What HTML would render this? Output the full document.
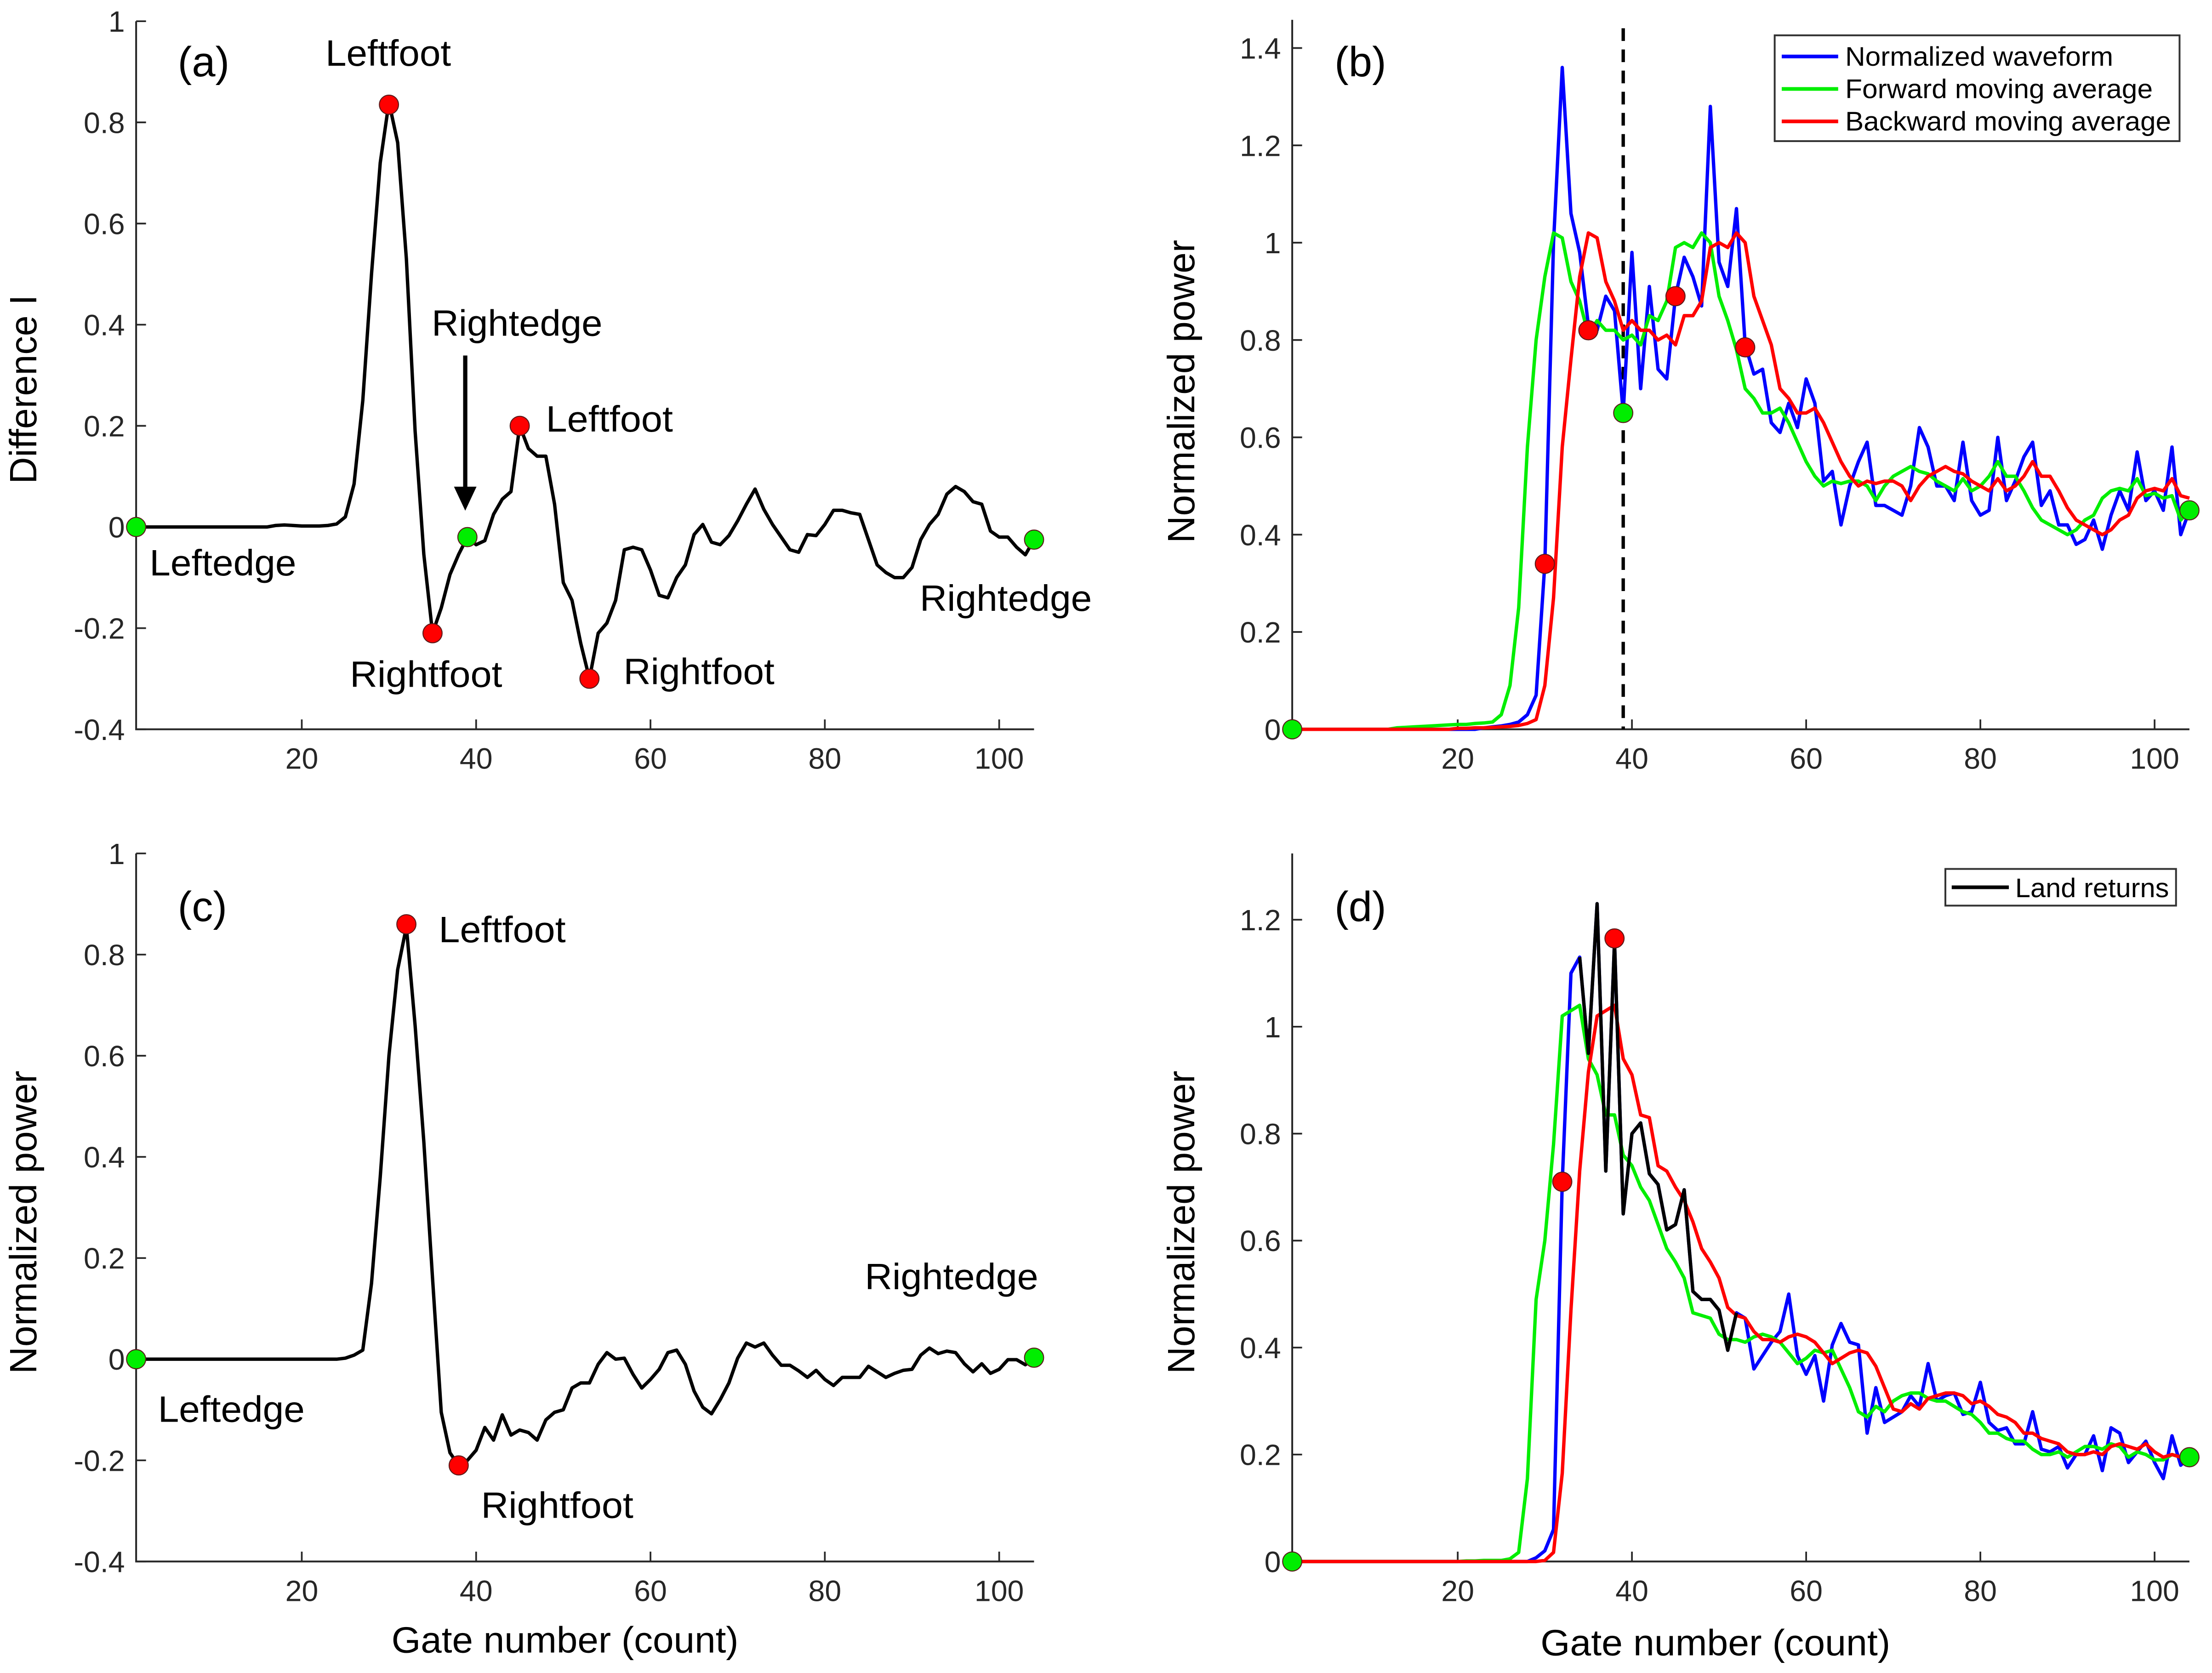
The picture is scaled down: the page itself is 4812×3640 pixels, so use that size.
<!DOCTYPE html>
<html><head><meta charset="utf-8"><title>Waveform retracking panels</title>
<style>
html,body{margin:0;padding:0;background:#fff;}
svg{display:block;}
text{font-family:"Liberation Sans",Arial,sans-serif;}
</style></head>
<body>
<svg id="fig" xmlns="http://www.w3.org/2000/svg" width="4812" height="3640" viewBox="0 0 1568 1186"></svg>
<script>
// ---------- data (gates 1..104) ----------
const gates = Array.from({length:104},(_,i)=>i+1);
const aTicksX = [20,40,60,80,100];
const aTicksY = [-0.4,-0.2,0,0.2,0.4,0.6,0.8,1];
const aTickLabelsY = ["-0.4","-0.2","0","0.2","0.4","0.6","0.8","1"];
const bTicksY = [0,0.2,0.4,0.6,0.8,1,1.2,1.4];
const bTickLabelsY = ["0","0.2","0.4","0.6","0.8","1","1.2","1.4"];
const dTicksY = [0,0.2,0.4,0.6,0.8,1,1.2];
const dTickLabelsY = ["0","0.2","0.4","0.6","0.8","1","1.2"];

const diffA = [0,0,0,0,0,0,0,0,0,0,0,0,0,0,0,0,0.003,0.004,0.003,0.002,0.002,0.002,0.003,0.006,0.02,0.085,0.25,0.5,0.72,0.84,
0.76,0.53,0.19,-0.054,-0.21,-0.16,-0.094,-0.054,-0.02,-0.035,-0.027,0.025,0.055,0.07,0.2,0.155,0.14,0.14,0.045,-0.11,
-0.145,-0.23,-0.3,-0.21,-0.19,-0.145,-0.045,-0.04,-0.045,-0.085,-0.135,-0.14,-0.1,-0.075,-0.015,0.005,-0.03,-0.035,-0.017,0.012,
0.045,0.075,0.035,0.005,-0.02,-0.045,-0.05,-0.015,-0.017,0.005,0.033,0.033,0.028,0.025,-0.025,-0.075,-0.09,-0.1,-0.1,-0.08,
-0.025,0.005,0.025,0.065,0.08,0.07,0.05,0.045,-0.008,-0.02,-0.02,-0.04,-0.055,-0.025];
const aRedX = [30,35,45,53];
const aRedY = [0.835,-0.21,0.2,-0.3];
const aGreenX = [1,39,104];
const aGreenY = [0,-0.02,-0.025];

const bBlue = [0,0,0,0,0,0,0,0,0,0,0,0,0,0,0,0,0,0,0,0,0,0,0.003,0.005,0.007,0.01,0.015,0.03,0.07,0.34,
1.0,1.36,1.06,0.98,0.83,0.82,0.89,0.86,0.65,0.98,0.70,0.91,0.74,0.72,0.89,0.97,0.93,0.87,1.28,0.96,
0.91,1.07,0.79,0.73,0.74,0.63,0.61,0.67,0.62,0.72,0.67,0.51,0.53,0.42,0.50,0.55,0.59,0.46,0.46,0.45,
0.44,0.50,0.62,0.58,0.50,0.50,0.47,0.59,0.47,0.44,0.45,0.60,0.47,0.51,0.56,0.59,0.46,0.49,0.42,0.42,
0.38,0.39,0.43,0.37,0.44,0.49,0.45,0.57,0.47,0.49,0.45,0.58,0.40,0.45];
const bGreen = [0,0,0,0,0,0,0,0,0,0,0,0,0.003,0.004,0.005,0.006,0.007,0.008,0.009,0.01,0.01,0.012,0.013,0.015,0.03,0.09,0.25,0.58,0.8,0.93,
1.02,1.01,0.92,0.88,0.81,0.84,0.82,0.82,0.80,0.81,0.79,0.85,0.84,0.88,0.99,1.0,0.99,1.02,1.0,0.89,
0.84,0.78,0.70,0.68,0.65,0.65,0.66,0.63,0.59,0.55,0.52,0.50,0.51,0.505,0.51,0.51,0.50,0.47,0.50,0.52,
0.53,0.54,0.53,0.525,0.51,0.50,0.49,0.515,0.49,0.50,0.52,0.55,0.52,0.52,0.49,0.455,0.43,0.42,0.41,0.40,
0.41,0.43,0.44,0.475,0.49,0.495,0.49,0.515,0.48,0.485,0.475,0.48,0.43,0.45];
const bRed = [0,0,0,0,0,0,0,0,0,0,0,0,0,0,0,0,0,0,0,0.002,0.002,0.003,0.003,0.004,0.005,0.006,0.008,0.012,0.02,0.09,
0.27,0.58,0.76,0.93,1.02,1.01,0.92,0.88,0.82,0.84,0.82,0.82,0.80,0.81,0.79,0.85,0.85,0.88,0.99,1.0,
0.99,1.02,1.0,0.89,0.84,0.79,0.70,0.68,0.65,0.65,0.66,0.63,0.59,0.55,0.52,0.50,0.51,0.505,0.51,0.51,
0.50,0.47,0.50,0.52,0.53,0.54,0.53,0.525,0.51,0.50,0.49,0.515,0.49,0.50,0.52,0.55,0.52,0.52,0.49,0.455,
0.43,0.42,0.41,0.40,0.41,0.43,0.44,0.475,0.49,0.495,0.49,0.515,0.48,0.475];
const bRedX = [30,35,45,53];
const bRedY = [0.34,0.82,0.89,0.785];
const bGreenX = [1,39,104];
const bGreenY = [0,0.65,0.45];
const bDashX = 39;

const cBlack = [0,0,0,0,0,0,0,0,0,0,0,0,0,0,0,0,0,0,0,0,0,0,0,0,0.002,0.008,0.018,0.15,0.36,0.6,
0.77,0.855,0.66,0.43,0.16,-0.105,-0.185,-0.21,-0.2,-0.18,-0.135,-0.16,-0.11,-0.15,-0.14,-0.145,-0.16,-0.12,-0.105,-0.1,
-0.057,-0.047,-0.047,-0.01,0.013,0.0,0.002,-0.03,-0.057,-0.04,-0.02,0.013,0.018,-0.01,-0.063,-0.095,-0.108,-0.08,-0.047,0.002,
0.032,0.024,0.032,0.008,-0.012,-0.012,-0.023,-0.036,-0.022,-0.04,-0.052,-0.036,-0.036,-0.036,-0.014,-0.025,-0.036,-0.028,-0.022,-0.02,
0.008,0.022,0.011,0.016,0.013,-0.009,-0.025,-0.009,-0.028,-0.02,-0.001,-0.001,-0.011,0.002];
const cRedX = [32,38];
const cRedY = [0.86,-0.21];
const cGreenX = [1,104];
const cGreenY = [0,0.003];

const dBlue = [0,0,0,0,0,0,0,0,0,0,0,0,0,0,0,0,0,0,0,0,0,0,0,0,0,0,0,0,0.007,0.02,
0.06,0.71,1.10,1.13,0.95,1.23,0.73,1.16,0.65,0.80,0.82,0.725,0.705,0.62,0.63,0.695,0.505,0.49,0.49,0.47,
0.395,0.465,0.455,0.36,0.385,0.41,0.43,0.50,0.385,0.35,0.385,0.30,0.405,0.445,0.41,0.405,0.24,0.325,0.26,0.27,
0.28,0.31,0.29,0.37,0.30,0.31,0.315,0.275,0.28,0.335,0.26,0.245,0.25,0.22,0.22,0.28,0.21,0.205,0.215,0.175,
0.20,0.20,0.235,0.17,0.25,0.24,0.185,0.205,0.225,0.185,0.155,0.235,0.18,0.195];
const dBlackX = [34,35,36,37,38,39,40,41,42,43,44,45,46,47,48,49,50,51,52];
const dBlackY = [1.13,0.95,1.23,0.73,1.16,0.65,0.80,0.82,0.725,0.705,0.62,0.63,0.695,0.505,0.49,0.49,0.47,0.395,0.465];
const dGreen = [0,0,0,0,0,0,0,0,0,0,0,0,0,0,0,0,0,0,0,0,0.001,0.001,0.002,0.002,0.002,0.005,0.017,0.155,0.49,0.6,
0.78,1.02,1.03,1.04,0.94,0.91,0.835,0.835,0.76,0.74,0.70,0.675,0.63,0.585,0.56,0.53,0.465,0.46,0.455,0.425,
0.415,0.415,0.41,0.42,0.425,0.42,0.41,0.39,0.37,0.38,0.395,0.39,0.395,0.36,0.325,0.28,0.27,0.29,0.28,0.30,
0.31,0.315,0.315,0.305,0.30,0.30,0.29,0.28,0.275,0.26,0.24,0.24,0.23,0.225,0.225,0.21,0.20,0.20,0.205,0.195,
0.205,0.215,0.215,0.21,0.22,0.215,0.195,0.205,0.20,0.19,0.19,0.20,0.195,0.195];
const dRed = [0,0,0,0,0,0,0,0,0,0,0,0,0,0,0,0,0,0,0,0,0,0,0,0,0,0,0,0,0,0.002,
0.017,0.165,0.47,0.73,0.915,1.02,1.03,1.04,0.94,0.91,0.835,0.83,0.74,0.73,0.70,0.675,0.635,0.585,0.56,0.53,
0.475,0.46,0.455,0.43,0.415,0.415,0.41,0.42,0.425,0.42,0.41,0.39,0.37,0.38,0.39,0.395,0.39,0.365,0.325,0.285,
0.28,0.295,0.285,0.305,0.31,0.315,0.315,0.31,0.295,0.30,0.29,0.275,0.27,0.26,0.24,0.24,0.23,0.225,0.22,0.205,
0.20,0.20,0.205,0.20,0.215,0.22,0.215,0.21,0.22,0.205,0.195,0.20,0.195,0.195];
const dRedX = [32,38];
const dRedY = [0.71,1.165];
const dGreenX = [1,104];
const dGreenY = [0,0.195];

// ---------- rendering ----------
const NS = "http://www.w3.org/2000/svg";
const svg = document.getElementById('fig');
function mk(tag, attrs, parent){
  const e = document.createElementNS(NS, tag);
  for (const k in attrs) e.setAttribute(k, attrs[k]);
  (parent||svg).appendChild(e);
  return e;
}
function txt(str, x, y, size, parent, extra){
  const e = mk('text', Object.assign({x:x, y:y, 'font-size':size, fill:'#000'}, extra||{}), parent);
  e.textContent = str;
  return e;
}
function makeAxes(name, xs, ys){
  const g = mk('g', {});
  
  
  return {g, xs, ys};
}
function linScale(d0, d1, r0, r1){ return v => r0 + (v - d0) * (r1 - r0) / (d1 - d0); }

function drawAxes(ax, opts){
  const {g, xs, ys} = ax;
  const xl = xs(1), xr = xs(104), yb = ys(opts.yMin), yt = opts.yTopPx;
  const axis = mk('path', {d:`M${xl},${yt} L${xl},${yb} L${xr},${yb}`, fill:'none', stroke:'#262626', 'stroke-width':1.3}, g);
  
  
  aTicksX.forEach(t=>{
    const x = xs(t);
    const tk = mk('line', {x1:x, y1:yb, x2:x, y2:yb-7, stroke:'#262626', 'stroke-width':1.2}, g);
    
    
    const lb = txt(String(t), x, yb+28, 21, g, {'text-anchor':'middle', fill:'#262626'});
    
    
  });
  opts.ticksY.forEach((t,i)=>{
    const y = ys(t);
    const tk = mk('line', {x1:xl, y1:y, x2:xl+7, y2:y, stroke:'#262626', 'stroke-width':1.2}, g);
    
    
    const lb = txt(opts.labelsY[i], xl-8, y+7.5, 21, g, {'text-anchor':'end', fill:'#262626'});
    
    
  });
}
function drawLine(ax, xvals, yvals, color, name, w){
  const d = xvals.map((x,i)=>(i?'L':'M')+ax.xs(x).toFixed(2)+','+ax.ys(yvals[i]).toFixed(2)).join(' ');
  const p = mk('path', {d, fill:'none', stroke:color, 'stroke-width':w||2.4, 'stroke-linejoin':'round'}, ax.g);
  
  
}
function drawMarkers(ax, xvals, yvals, color, name){
  xvals.forEach((x,i)=>{
    const c = mk('circle', {cx:ax.xs(x), cy:ax.ys(yvals[i]), r:6.8, fill:color, stroke:'#5a1a1a', 'stroke-width':0.7}, ax.g);
    
    
  });
}
function label(str, x, y, size, name, len, extra){
  const e = txt(str, x, y, size, svg, Object.assign(len?{textLength:len, lengthAdjust:'spacingAndGlyphs'}:{}, extra||{}));
  
  
  return e;
}

// Panel (a)
const axA = makeAxes('panel-a', linScale(1,104,96.5,733), linScale(-0.4,1,517,15));
drawAxes(axA, {yMin:-0.4, yTopPx:15, ticksY:aTicksY, labelsY:aTickLabelsY});
drawLine(axA, gates, diffA, '#000', 'difference-curve');
drawMarkers(axA, aRedX, aRedY, '#ff0000', 'foot-marker');
drawMarkers(axA, aGreenX, aGreenY, '#00ee00', 'edge-marker');
const arrow = mk('g', {});  
mk('line', {x1:329.8, y1:252, x2:329.8, y2:347, stroke:'#000', 'stroke-width':3}, arrow);
mk('path', {d:'M321.8,345 L337.8,345 L329.8,362 Z', fill:'#000'}, arrow);

// Panel (b)
const axB = makeAxes('panel-b', linScale(1,104,916,1552), linScale(0,1.4,517,34));
drawAxes(axB, {yMin:0, yTopPx:14, ticksY:bTicksY, labelsY:bTickLabelsY});
const dash = mk('line', {x1:axB.xs(bDashX), y1:20, x2:axB.xs(bDashX), y2:517, stroke:'#000', 'stroke-width':2.4, 'stroke-dasharray':'9,6'}, axB.g);


drawLine(axB, gates, bBlue, '#0000ff', 'normalized-waveform-line');
drawLine(axB, gates, bGreen, '#00ee00', 'forward-average-line');
drawLine(axB, gates, bRed, '#ff0000', 'backward-average-line');
drawMarkers(axB, bRedX, bRedY, '#ff0000', 'foot-marker');
drawMarkers(axB, bGreenX, bGreenY, '#00ee00', 'edge-marker');

// Panel (c)
const axC = makeAxes('panel-c', linScale(1,104,96.5,733), linScale(-0.4,1,1107,605));
drawAxes(axC, {yMin:-0.4, yTopPx:605, ticksY:aTicksY, labelsY:aTickLabelsY});
drawLine(axC, gates, cBlack, '#000', 'difference-curve');
drawMarkers(axC, cRedX, cRedY, '#ff0000', 'foot-marker');
drawMarkers(axC, cGreenX, cGreenY, '#00ee00', 'edge-marker');

// Panel (d)
const axD = makeAxes('panel-d', linScale(1,104,916,1552), linScale(0,1.2,1107,652));
drawAxes(axD, {yMin:0, yTopPx:605, ticksY:dTicksY, labelsY:dTickLabelsY});
drawLine(axD, gates, dBlue, '#0000ff', 'normalized-waveform-line');
drawLine(axD, gates, dGreen, '#00ee00', 'forward-average-line');
drawLine(axD, gates, dRed, '#ff0000', 'backward-average-line');
drawLine(axD, dBlackX, dBlackY, '#000', 'land-returns-line');
drawMarkers(axD, dRedX, dRedY, '#ff0000', 'foot-marker');
drawMarkers(axD, dGreenX, dGreenY, '#00ee00', 'edge-marker');

// Legends
const lgB = mk('g', {});  
mk('rect', {x:1258, y:25, width:287, height:75, fill:'#fff', stroke:'#333', 'stroke-width':1.3}, lgB);
[['Normalized waveform','#0000ff',40,190],['Forward moving average','#00ee00',63,218],['Backward moving average','#ff0000',86,231]].forEach(r=>{
  const le = mk('g', {}, lgB);  
  mk('line', {x1:1263, y1:r[2], x2:1303, y2:r[2], stroke:r[1], 'stroke-width':2.6}, le);
  txt(r[0], 1308, r[2]+6.5, 19, le, {textLength:r[3], lengthAdjust:'spacingAndGlyphs'});
});
const lgD = mk('g', {});  
mk('rect', {x:1379, y:616, width:163.5, height:26, fill:'#fff', stroke:'#333', 'stroke-width':1.3}, lgD);
const leD = mk('g', {}, lgD);  
mk('line', {x1:1383.5, y1:629, x2:1424, y2:629, stroke:'#000', 'stroke-width':2.6}, leD);
txt('Land returns', 1428.5, 636, 19, leD, {textLength:109, lengthAdjust:'spacingAndGlyphs'});

// Annotations
label('(a)', 126, 54, 30, 'panel-label-a');
label('(b)', 946, 54, 30, 'panel-label-b');
label('(c)', 126, 653, 30, 'panel-label-c');
label('(d)', 946, 653, 30, 'panel-label-d');
label('Leftfoot', 230.7, 46.6, 26, 'leftfoot-label', 89);
label('Rightedge', 306, 238, 26, 'rightedge-label', 121);
label('Leftfoot', 387, 306, 26, 'leftfoot-label', 90);
label('Leftedge', 106, 408, 26, 'leftedge-label', 104);
label('Rightfoot', 248, 487, 26, 'rightfoot-label', 108);
label('Rightfoot', 442, 485, 26, 'rightfoot-label', 107);
label('Rightedge', 652, 433, 26, 'rightedge-label', 122);
label('Leftfoot', 311, 668, 26, 'leftfoot-label', 90);
label('Leftedge', 112, 1008, 26, 'leftedge-label', 104);
label('Rightfoot', 341, 1076, 26, 'rightfoot-label', 108);
label('Rightedge', 613, 914, 26, 'rightedge-label', 123);

// Axis titles
label('Gate number (count)', 277.5, 1171.5, 26, 'x-axis-title-c', 246);
label('Gate number (count)', 1092, 1173.5, 26, 'x-axis-title-d', 248);
label('Difference I', 0, 0, 27, 'y-axis-title-a', 134, {transform:'translate(25.8,343) rotate(-90)'});
label('Normalized power', 0, 0, 27, 'y-axis-title-b', 215, {transform:'translate(846.6,385) rotate(-90)'});
label('Normalized power', 0, 0, 27, 'y-axis-title-c', 215, {transform:'translate(25.8,974) rotate(-90)'});
label('Normalized power', 0, 0, 27, 'y-axis-title-d', 215, {transform:'translate(846.6,974) rotate(-90)'});
</script>
</body></html>
